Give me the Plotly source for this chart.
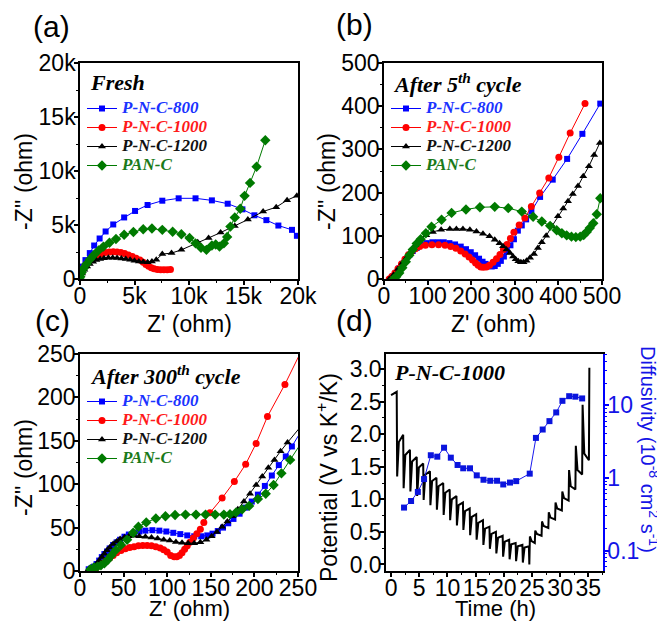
import plotly.graph_objects as go

W, H = 665, 621          # browser window
OFF = 8                  # default page margin around the plot div
FW, FH = W - OFF, H - OFF

# ---------------- Panel (a): Fresh (ohm) ----------------
a800_x = [20, 100, 250, 500, 900, 1300, 1800, 2350, 3050, 4050, 5050, 6200, 7550, 9050, 10600, 12100, 13550, 14900, 16000, 17100, 18200, 19450, 19900]
a800_y = [300, 750, 1150, 1750, 2400, 3100, 3750, 4400, 5050, 5700, 6300, 6850, 7250, 7470, 7470, 7280, 6970, 6450, 5900, 5450, 4950, 4550, 4000]

a1000_x = [50, 200, 400, 600, 850, 1100, 1400, 1700, 2000, 2350, 2700, 3050, 3400, 3750, 4100, 4450, 4800, 5150, 5500, 5800, 6050, 6300, 6550, 6800, 7100, 7400, 7700, 8000, 8300]
a1000_y = [300, 700, 1100, 1400, 1700, 1950, 2120, 2250, 2350, 2450, 2500, 2520, 2500, 2450, 2350, 2220, 2080, 1920, 1750, 1550, 1350, 1180, 1050, 950, 880, 850, 850, 860, 880]

a1200_x = [50, 200, 400, 650, 900, 1200, 1500, 1850, 2200, 2600, 3000, 3400, 3800, 4200, 4600, 5000, 5400, 5800, 6200, 6600, 7000, 7550, 8400, 9300, 10800, 11800, 12900, 14200, 15400, 16800, 18000, 19000, 19900]
a1200_y = [200, 500, 850, 1150, 1400, 1600, 1750, 1850, 1920, 1960, 1970, 1950, 1900, 1850, 1780, 1700, 1630, 1570, 1560, 1620, 1780, 2310, 2400, 2700, 3400, 3800, 4300, 4900, 5500, 6250, 6650, 7300, 7700]

apan_x = [30, 150, 350, 600, 900, 1250, 1700, 2150, 2700, 3300, 4050, 4900, 5800, 6600, 7550, 8500, 9300, 10050, 10600, 11100, 11600, 12100, 12450, 12800, 13200, 13500, 13800, 14200, 14700, 15100, 15600, 16200, 17000]
apan_y = [200, 600, 1000, 1400, 1800, 2200, 2650, 3000, 3350, 3700, 4100, 4350, 4600, 4670, 4550, 4380, 4150, 3800, 3300, 2900, 2700, 3100, 3200, 3000, 3300, 3900, 4850, 5700, 6500, 7700, 8900, 10400, 12850]

# ---------------- Panel (b): After 5th cycle (ohm) ----------------
b800_x = [14, 20, 27, 34, 42, 50, 58, 66, 75, 86, 98, 111, 124, 137, 150, 163, 176, 188, 199, 209, 218, 226, 233, 240, 247, 254, 261, 268, 275, 282, 290, 298, 307, 316, 326, 338, 358, 387, 420, 455, 496]
b800_y = [0, 6, 14, 24, 35, 46, 56, 65, 72, 79, 83, 85, 85, 85, 83, 80, 75, 69, 62, 55, 47, 40, 35, 31, 29, 30, 35, 42, 52, 64, 78, 92, 112, 124, 138, 157, 190, 230, 278, 336, 406]

b1000_x = [12, 18, 25, 32, 40, 48, 56, 64, 72, 82, 95, 110, 125, 140, 153, 165, 176, 186, 195, 203, 210, 216, 222, 228, 235, 242, 250, 258, 266, 274, 282, 290, 298, 310, 323, 338, 357, 378, 401, 427, 461]
b1000_y = [0, 6, 14, 24, 35, 46, 56, 64, 70, 75, 78, 79, 79, 78, 75, 71, 65, 58, 51, 44, 37, 32, 28, 27, 28, 32, 39, 47, 57, 68, 80, 94, 108, 125, 141, 168, 199, 234, 282, 338, 406]

b1200_x = [12, 22, 32, 42, 52, 62, 72, 82, 97, 112, 131, 151, 166, 181, 197, 212, 227, 242, 254, 265, 273, 281, 289, 296, 302, 308, 314, 320, 327, 335, 344, 353, 362, 372, 385, 399, 411, 422, 433, 445, 457, 470, 482, 495]
b1200_y = [0, 10, 23, 37, 50, 63, 78, 90, 101, 109, 114, 116, 116, 116, 114, 110, 105, 99, 91, 83, 76, 68, 60, 52, 46, 41, 39, 39, 42, 49, 58, 72, 85, 100, 122, 145, 163, 180, 197, 215, 238, 261, 287, 315]

bpan_x = [22, 28, 35, 42, 50, 58, 66, 75, 84, 96, 109, 132, 155, 188, 220, 254, 285, 316, 342, 362, 381, 396, 408, 419, 430, 440, 450, 458, 465, 472, 480, 488, 496]
bpan_y = [0, 5, 14, 26, 40, 55, 68, 82, 92, 106, 121, 137, 153, 161, 166, 167, 164, 156, 144, 133, 123, 113, 106, 101, 98, 97, 98, 102, 109, 118, 129, 150, 187]

# ---------------- Panel (c): After 300th cycle (ohm) ----------------
c800_x = [10, 13, 16, 19, 22, 25, 28, 31, 34, 38, 42, 46, 51, 56, 62, 68, 75, 83, 91, 99, 107, 115, 123, 131, 139, 146, 152, 158, 164, 170, 176, 183, 190, 197, 204, 212, 220, 228, 236, 243, 256]
c800_y = [2, 3, 5, 8, 12, 16, 19.5, 22.5, 26, 30, 33, 36, 39.5, 42, 44, 45.5, 46.5, 47, 46.5, 45.5, 44, 42.5, 41, 40, 40, 41, 43, 46, 50, 55, 60, 66, 73, 80, 88, 98, 110, 122, 132, 143.5, 165]

c1000_x = [14, 18, 22, 26, 30, 34, 38, 42, 47, 52, 57, 62, 67, 72, 77, 82, 87, 92, 96, 100, 104, 108, 111, 114, 117, 120, 123, 126, 130, 134, 138, 142, 149, 163, 177, 190, 202, 215, 235, 256]
c1000_y = [1, 3, 6, 9, 12, 15, 18, 21, 23.5, 25.5, 27, 28, 29, 29.5, 29.5, 29, 28, 26.5, 24.5, 22, 18, 16.5, 16.5, 18, 21, 25, 29, 33, 38, 43, 48, 56, 67, 84, 103, 123, 147, 178, 215, 258]

c1200_x = [10, 13, 16, 19, 22, 25, 28, 31, 34, 38, 42, 46, 51, 56, 62, 68, 75, 82, 89, 96, 103, 110, 117, 124, 131, 138, 145, 151, 157, 163, 169, 175, 181, 188, 195, 202, 209, 216, 223, 230, 238, 256]
c1200_y = [2, 3, 5, 8, 12, 16, 20, 24, 27, 31, 34, 37, 39, 40, 40.5, 40, 39.5, 38.5, 37.5, 36, 35, 33.5, 32.5, 32, 32, 33, 36, 40, 45, 51, 57, 63, 71, 80, 89, 99, 109, 119, 128, 138, 148, 170]

cpan_x = [12, 16, 20, 24, 28, 32, 36, 41, 47, 54, 61, 67, 76, 87, 98, 109, 121, 133, 144, 155, 165, 172, 179, 186, 194, 204, 213, 222, 231, 241, 256]
cpan_y = [2, 4, 5, 6.5, 9, 13, 18, 24, 30, 36, 44, 51, 56, 60.5, 63, 64.5, 65, 65, 65, 65, 65, 65.5, 67.5, 71, 75, 83, 89, 99, 112.5, 128, 151]

# ---------------- Panel (d): GITT of P-N-C-1000 ----------------
ocv_t, ocv_v = 0.0, 2.60
dis_t = [1.0, 2.15, 3.35, 4.55, 5.7, 6.9, 8.05, 9.25, 10.4, 11.6, 12.75, 13.95, 15.1, 16.3, 17.45, 18.6, 19.8, 20.95, 22.1, 23.3, 24.45]
dis_peak = [2.65, 1.99, 1.76, 1.65, 1.55, 1.43, 1.33, 1.25, 1.15, 1.05, 0.95, 0.86, 0.77, 0.68, 0.58, 0.50, 0.44, 0.38, 0.33, 0.30, 0.28]
dis_low = [1.35, 1.17, 1.12, 1.05, 0.99, 0.91, 0.84, 0.76, 0.68, 0.60, 0.53, 0.45, 0.38, 0.30, 0.24, 0.17, 0.12, 0.08, 0.05, 0.03, 0.0]
dis_knee = [1.88, 1.68, 1.58, 1.49, 1.38, 1.28, 1.20, 1.10, 1.00, 0.91, 0.82, 0.73, 0.64, 0.55, 0.47, 0.41, 0.35, 0.31, 0.28, 0.26]
chg_t = [24.55, 25.5, 26.7, 27.9, 29.1, 30.3, 31.5, 32.7, 33.9, 35.1]
chg_base = [0.0, 0.33, 0.44, 0.56, 0.69, 0.83, 0.98, 1.15, 1.38, 1.60]
chg_high = [0.43, 0.52, 0.66, 0.80, 0.95, 1.12, 1.45, 1.82, 2.45, 3.02]
chg_knee = [0.36, 0.47, 0.59, 0.72, 0.86, 1.02, 1.20, 1.45, 1.70]

diff_t = [2.3, 3.55, 4.75, 5.85, 7.05, 8.2, 9.4, 10.6, 11.8, 12.8, 14.0, 15.2, 16.4, 17.6, 18.8, 19.9, 21.1, 22.2, 24.6, 25.7, 26.9, 28.1, 29.3, 30.4, 31.6, 32.7, 33.9]
diff_D = [0.39, 0.48, 0.64, 0.96, 2.04, 1.95, 2.59, 1.89, 1.50, 1.35, 1.35, 1.08, 0.94, 0.91, 0.91, 0.81, 0.86, 0.90, 1.14, 3.53, 4.6, 6.0, 7.9, 11.4, 13.2, 13.0, 12.3]

series_names = ["P-N-C-800", "P-N-C-1000", "P-N-C-1200", "PAN-C"]
series_colors = ["#0000ff", "#ff0000", "#000000", "#007a00"]
text_colors = ["#1a33ff", "#ff1a1a", "#111111", "#1a7a1a"]
series_symbols = ["square", "circle", "triangle-up", "diamond"]
series_sizes = [6, 7, 7, 8]

# ---------------- build potential path ----------------
pulse_dt = 0.08
knee_dt = 0.3
pot_t = [ocv_t]
pot_v = [ocv_v]
for i in range(len(dis_t)):
    pot_t += [dis_t[i], dis_t[i] + pulse_dt]
    pot_v += [dis_peak[i], dis_low[i]]
    if i < len(dis_knee):
        pot_t.append(dis_t[i] + pulse_dt + knee_dt)
        pot_v.append(dis_knee[i])
for j in range(len(chg_t)):
    pot_t += [chg_t[j], chg_t[j] + pulse_dt]
    pot_v += [chg_base[j], chg_high[j]]
    if j < len(chg_knee):
        pot_t.append(chg_t[j] + pulse_dt + knee_dt)
        pot_v.append(chg_knee[j])


def fx(X):
    return (X - OFF) / FW


def fy(Y):
    return 1 - (Y - OFF) / FH


fig = go.Figure()

panels = [
    ("x", "y", "legend", [(a800_x, a800_y), (a1000_x, a1000_y), (a1200_x, a1200_y), (apan_x, apan_y)]),
    ("x2", "y2", "legend2", [(b800_x, b800_y), (b1000_x, b1000_y), (b1200_x, b1200_y), (bpan_x, bpan_y)]),
    ("x3", "y3", "legend3", [(c800_x, c800_y), (c1000_x, c1000_y), (c1200_x, c1200_y), (cpan_x, cpan_y)]),
]
for xa, ya, lg, data in panels:
    for k, (xs, ys) in enumerate(data):
        fig.add_trace(go.Scatter(
            x=xs, y=ys, mode="lines+markers", xaxis=xa, yaxis=ya, legend=lg,
            name="<span style='color:%s;font-size:17px'><b><i>%s</i></b></span>" % (text_colors[k], series_names[k]),
            line=dict(color=series_colors[k], width=1),
            marker=dict(symbol=series_symbols[k], size=series_sizes[k], color=series_colors[k],
                        line=dict(width=0)),
        ))

fig.add_trace(go.Scatter(x=pot_t, y=pot_v, mode="lines", xaxis="x4", yaxis="y4",
                         line=dict(color="black", width=2), showlegend=False))
fig.add_trace(go.Scatter(x=diff_t, y=diff_D, mode="lines+markers", xaxis="x4", yaxis="y5",
                         line=dict(color="#1a1aee", width=1),
                         marker=dict(symbol="square", size=6, color="#0a14dd"), showlegend=False))

TF = dict(family="Liberation Sans, Arial, sans-serif", size=23, color="black")
SERIF = "Liberation Serif, Times New Roman, serif"


def ax(domain, rng, standoff, **kw):
    d = dict(domain=domain, range=rng, showline=True, linewidth=1.5, linecolor="black",
             mirror=True, ticks="outside", ticklen=4, tickwidth=1.5, tickcolor="black",
             showgrid=False, zeroline=False, tickfont=TF, automargin=False, tickangle=0,
             ticklabelstandoff=standoff)
    d.update(kw)
    return d


def mn(dt, color="black"):
    return dict(ticks="outside", ticklen=2.5, tickwidth=1, tickcolor=color, dtick=dt)


XS, YS = -8, -6   # pull tick labels close to the frame, as in the original

xa_dom = [fx(80), fx(298)]
xb_dom = [fx(384), fx(602)]
xd_dom = [fx(386), fx(603)]
ytop_dom = [fy(279), fy(63)]
ybot_dom = [fy(571), fy(354)]

kt = [0, 5000, 10000, 15000, 20000]
ktt = ["0", "5k", "10k", "15k", "20k"]

fig.update_layout(
    template="none",
    width=FW, height=FH, margin=dict(l=0, r=0, t=0, b=0, autoexpand=False),
    plot_bgcolor="white", paper_bgcolor="white",
    xaxis=ax(xa_dom, [0, 20000], XS, anchor="y", tickvals=kt, ticktext=ktt, minor=mn(2500)),
    yaxis=ax(ytop_dom, [0, 20000], YS, anchor="x", tickvals=kt, ticktext=ktt, minor=mn(2500)),
    xaxis2=ax(xb_dom, [0, 500], XS, anchor="y2", dtick=100, minor=mn(50)),
    yaxis2=ax(ytop_dom, [0, 500], YS, anchor="x2", dtick=100, minor=mn(50)),
    xaxis3=ax(xa_dom, [0, 250], XS, anchor="y3", dtick=50, minor=mn(25)),
    yaxis3=ax(ybot_dom, [0, 250], YS, anchor="x3", dtick=50, minor=mn(25)),
    xaxis4=ax(xd_dom, [-0.9, 37.6], XS, anchor="y4", dtick=5, tick0=0, minor=mn(2.5)),
    yaxis4=ax(ybot_dom, [-0.1, 3.23], YS, anchor="x4", dtick=0.5, tick0=0, tickformat=".1f",
              mirror=False, minor=mn(0.25)),
    yaxis5=dict(domain=ybot_dom, anchor="x4", overlaying="y4", side="right", type="log",
                range=[-1.28, 1.70], showline=True, linewidth=1.5, linecolor="#0000ff",
                ticks="outside", ticklen=4, tickwidth=1.5, tickcolor="#0000ff", automargin=False,
                ticklabelstandoff=YS,
                tickvals=[0.1, 1, 10], ticktext=["0.1", "1", "10"],
                tickfont=dict(family=TF["family"], size=23, color="#1414e6"),
                showgrid=False, zeroline=False,
                minor=dict(ticks="outside", ticklen=2.5, tickwidth=1, tickcolor="#0000ff",
                           tickvals=[0.06, 0.07, 0.08, 0.09, 0.2, 0.3, 0.4, 0.5, 0.6, 0.7, 0.8, 0.9,
                                     2, 3, 4, 5, 6, 7, 8, 9, 20, 30, 40, 50])),
    showlegend=True,
)

leg_common = dict(bgcolor="rgba(0,0,0,0)", borderwidth=0, font=dict(family=SERIF, size=11),
                  xanchor="left", yanchor="top", tracegroupgap=0, itemwidth=30)
fig.update_layout(
    legend=dict(x=fx(82), y=fy(94), **leg_common),
    legend2=dict(x=fx(386), y=fy(94), **leg_common),
    legend3=dict(x=fx(82), y=fy(387), **leg_common),
)

ann = []


def txt(X, Y, s, size=23, angle=0, color="black", family=TF["family"], xanchor="center"):
    ann.append(dict(x=fx(X), y=fy(Y), xref="paper", yref="paper", text=s, showarrow=False,
                    textangle=angle, xanchor=xanchor, yanchor="middle",
                    font=dict(family=family, size=size, color=color)))


# panel labels
txt(51, 27, "(a)", size=30)
txt(354, 25, "(b)", size=30)
txt(52, 320, "(c)", size=30)
txt(354, 320, "(d)", size=30)
# axis titles
txt(189, 324, "Z' (ohm)")
txt(493, 324, "Z' (ohm)")
txt(189, 608, "Z' (ohm)", size=22)
txt(495, 608, "Time (h)", size=22)
txt(24, 182, "-Z'' (ohm)", angle=-90)
txt(327, 182, "-Z'' (ohm)", angle=-90)
txt(24, 468, "-Z'' (ohm)", angle=-90)
txt(327, 478, "Potential (V vs K<sup>+</sup>/K)", angle=-90)
txt(650, 449, "Diffusivity (10<sup>-8</sup> cm<sup>2</sup> s<sup>-1</sup>)", size=20, angle=90, color="#1414e6")
# in-panel titles
txt(88, 83, "<b><i>Fresh</i></b>", size=22, family=SERIF, xanchor="left")
txt(391, 83, "<b><i>After 5<sup>th</sup> cycle</i></b>", size=22, family=SERIF, xanchor="left")
txt(88, 375, "<b><i>After 300<sup>th</sup> cycle</i></b>", size=22, family=SERIF, xanchor="left")
txt(392, 372, "<b><i>P-N-C-1000</i></b>", size=22, family=SERIF, xanchor="left")

fig.update_layout(annotations=ann)

fig.write_html("out.html")
